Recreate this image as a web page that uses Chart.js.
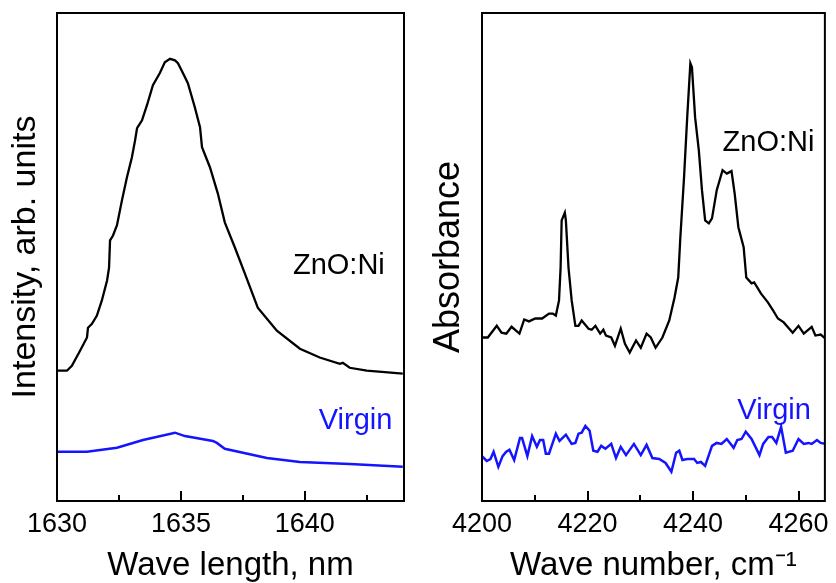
<!DOCTYPE html>
<html>
<head>
<meta charset="utf-8">
<script src="https://cdn.jsdelivr.net/npm/chart.js@4"></script>
<style>
  html, body { margin: 0; padding: 0; background: #fff; overflow: hidden; }
  #wrap { position: relative; width: 836px; height: 583px; }
  canvas { position: absolute; top: 0; }
  #pl-chart { left: 0; }
  #abs-chart { left: 420px; }
</style>
</head>
<body>
<div id="wrap">
  <canvas id="pl-chart" width="420" height="583"></canvas>
  <canvas id="abs-chart" width="416" height="583"></canvas>
</div>
<script>
// Left panel: emission spectra
const znoWavelength = [1630.00, 1630.40, 1630.60, 1630.93, 1631.21, 1631.25, 1631.41, 1631.61, 1631.81, 1632.02, 1632.10, 1632.14, 1632.26, 1632.42, 1632.62, 1632.82, 1633.02, 1633.15, 1633.23, 1633.43, 1633.63, 1633.87, 1634.15, 1634.35, 1634.56, 1634.76, 1634.88, 1635.08, 1635.28, 1635.56, 1635.77, 1635.85, 1636.17, 1636.49, 1636.77, 1637.18, 1637.58, 1638.10, 1638.87, 1639.80, 1640.60, 1641.41, 1641.53, 1641.81, 1642.50, 1643.95]
const znoIntensity = [26.7, 26.7, 27.7, 30.8, 33.5, 35.5, 36.3, 38.0, 41.1, 45.2, 47.8, 53.4, 54.4, 56.5, 61.6, 66.3, 70.4, 73.9, 76.4, 78.0, 81.1, 85.2, 87.7, 89.9, 90.6, 90.3, 89.7, 87.7, 85.6, 80.7, 76.6, 72.5, 68.4, 63.0, 57.1, 51.9, 46.6, 39.6, 34.9, 31.2, 29.4, 28.1, 28.3, 27.3, 26.7, 26.1]
const virginWavelength = [1630.00, 1631.21, 1632.42, 1633.47, 1634.76, 1635.16, 1636.29, 1636.45, 1636.77, 1638.47, 1639.80, 1641.81, 1643.95]
const virginIntensity = [10.1, 10.1, 10.9, 12.5, 14.0, 13.3, 12.3, 11.9, 10.7, 8.8, 8.0, 7.6, 7.0]

// Right panel: absorption spectra
const znoWavenumber = [4200.0, 4201.1, 4202.8, 4203.7, 4204.6, 4205.6, 4207.1, 4208.0, 4208.9, 4210.1, 4211.4, 4212.7, 4213.4, 4214.0, 4214.6, 4214.9, 4215.1, 4215.7, 4215.9, 4216.4, 4217.0, 4217.7, 4218.3, 4218.9, 4220.2, 4220.8, 4221.5, 4222.4, 4223.0, 4223.5, 4224.5, 4225.2, 4226.3, 4227.1, 4228.0, 4229.2, 4230.1, 4231.2, 4232.0, 4232.9, 4234.2, 4235.5, 4236.5, 4237.2, 4237.6, 4238.3, 4238.9, 4239.5, 4239.8, 4240.4, 4241.1, 4241.7, 4242.3, 4243.0, 4243.6, 4244.5, 4245.6, 4246.4, 4247.3, 4247.9, 4248.6, 4249.6, 4250.1, 4251.1, 4251.6, 4252.9, 4254.2, 4255.2, 4256.1, 4257.2, 4258.9, 4260.0, 4261.0, 4262.5, 4263.2, 4264.2, 4265.1]
const znoAbsorbance = [33.5, 33.5, 35.9, 34.5, 34.3, 35.7, 34.3, 37.2, 36.8, 37.4, 37.4, 38.4, 38.4, 38.0, 41.1, 47.8, 57.5, 59.1, 57.5, 47.8, 41.1, 35.9, 35.9, 37.0, 35.3, 35.1, 35.9, 34.3, 35.1, 33.9, 33.5, 31.8, 35.3, 32.2, 30.4, 32.9, 31.4, 34.3, 33.5, 31.4, 33.5, 37.0, 41.7, 45.8, 54.0, 66.3, 78.6, 89.7, 88.9, 78.6, 71.9, 63.7, 57.5, 56.9, 57.9, 63.7, 67.8, 67.1, 67.6, 63.0, 56.1, 52.0, 45.8, 44.6, 44.8, 42.5, 40.7, 39.0, 37.4, 36.6, 34.5, 35.9, 34.3, 35.7, 33.9, 34.1, 33.3]
const virginWavenumber = [4200.0, 4200.9, 4201.6, 4202.2, 4203.1, 4203.9, 4204.6, 4205.2, 4206.1, 4207.2, 4207.6, 4208.6, 4209.5, 4210.4, 4211.0, 4211.6, 4212.1, 4212.7, 4214.0, 4214.7, 4215.9, 4217.0, 4217.7, 4218.3, 4218.9, 4219.6, 4220.4, 4221.1, 4221.9, 4222.6, 4223.4, 4224.5, 4225.4, 4226.3, 4227.3, 4228.8, 4230.1, 4231.2, 4232.3, 4233.6, 4234.8, 4235.9, 4236.8, 4237.4, 4238.0, 4238.9, 4240.2, 4240.8, 4241.5, 4242.3, 4243.6, 4244.5, 4245.4, 4246.4, 4247.0, 4247.7, 4248.4, 4249.2, 4250.0, 4251.1, 4252.6, 4253.3, 4254.3, 4255.0, 4255.8, 4256.7, 4257.6, 4258.9, 4260.0, 4261.0, 4261.9, 4262.5, 4263.5, 4264.2, 4265.1]
const virginAbsorbance = [9.2, 8.2, 8.6, 10.1, 7.0, 9.2, 10.1, 10.5, 8.4, 12.9, 12.9, 9.2, 13.3, 11.1, 12.5, 12.5, 9.7, 9.7, 13.8, 12.3, 13.6, 11.7, 11.9, 13.8, 14.0, 15.4, 14.4, 10.3, 10.1, 11.3, 10.7, 11.7, 8.8, 11.1, 9.4, 11.7, 9.4, 11.5, 8.8, 8.6, 7.8, 6.0, 9.9, 10.3, 8.4, 8.6, 8.6, 7.8, 8.0, 7.2, 11.3, 11.9, 11.7, 12.7, 11.9, 10.9, 12.5, 12.7, 14.2, 12.7, 9.4, 11.7, 13.1, 13.1, 11.9, 15.2, 9.9, 10.3, 12.7, 11.7, 11.9, 11.7, 12.5, 11.9, 11.7]

const FONT = '"Liberation Sans", Arial, sans-serif'
const BLUE = 'rgb(20, 20, 255)'

const toPoints = (xs, ys) => xs.map((x, i) => ({ x: x, y: ys[i] }))

// frame, inward ticks and in-plot labels
const frameTicks = {
  id: 'frameTicks',
  afterDatasetsDraw (chart, args, opts) {
    const { ctx, chartArea: a, scales } = chart
    const x = scales.x
    const y = scales.y
    ctx.save()
    ctx.strokeStyle = '#000'
    ctx.lineWidth = 2
    ctx.strokeRect(a.left, a.top, a.right - a.left, a.bottom - a.top)
    x.ticks.forEach((t) => {
      const px = Math.round(x.getPixelForValue(t.value))
      const len = t.label !== '' ? 10 : 6
      ctx.beginPath()
      ctx.moveTo(px, a.bottom)
      ctx.lineTo(px, a.bottom - len)
      ctx.stroke()
    })
    ctx.font = '29px ' + FONT
    ctx.textAlign = 'left'
    ctx.textBaseline = 'alphabetic'
    opts.labels.forEach((l) => {
      ctx.fillStyle = l.color
      ctx.fillText(l.text, x.getPixelForValue(l.x), y.getPixelForValue(l.y))
    })
    ctx.restore()
  }
}

function makeOptions (xMin, xMax, step, labelEvery, xTitle, yTitle, yFont, yPad, rightPad, labels) {
  return {
    responsive: false,
    animation: false,
    devicePixelRatio: 1,
    layout: { padding: { top: 13, right: rightPad, left: 0, bottom: 0 } },
    elements: { point: { radius: 0 }, line: { tension: 0 } },
    plugins: {
      legend: { display: false },
      tooltip: { enabled: false },
      frameTicks: { labels: labels }
    },
    scales: {
      x: {
        type: 'linear',
        min: xMin,
        max: xMax,
        grid: { display: false, drawTicks: false },
        border: { display: false },
        ticks: {
          stepSize: step,
          includeBounds: false,
          autoSkip: false,
          maxRotation: 0,
          padding: 7,
          color: '#000',
          font: { family: FONT, size: 27 },
          callback: (v) => (Math.abs(v % labelEvery) < 1e-6 ? String(v) : '')
        },
        title: {
          display: true,
          text: xTitle,
          color: '#000',
          font: { family: FONT, size: 33 },
          padding: { top: -1.6, bottom: -2.4 }
        }
      },
      y: {
        min: 0,
        max: 100,
        grid: { display: false, drawTicks: false },
        border: { display: false },
        ticks: { display: false },
        title: {
          display: true,
          text: yTitle,
          color: '#000',
          font: { family: FONT, size: yFont },
          padding: yPad
        }
      }
    }
  }
}

const plChart = new Chart(document.querySelector('#pl-chart'), {
  type: 'line',
  data: {
    datasets: [
      { label: 'ZnO:Ni', data: toPoints(znoWavelength, znoIntensity), borderColor: '#000', borderWidth: 2.3 },
      { label: 'Virgin', data: toPoints(virginWavelength, virginIntensity), borderColor: BLUE, borderWidth: 2.5 }
    ]
  },
  options: makeOptions(1630, 1644, 2.5, 5, 'Wave length, nm', 'Intensity, arb. units', 34,
    { top: 4.8, bottom: 11.4 }, 16,
    [
      { text: 'ZnO:Ni', x: 1639.52, y: 46.6, color: '#000' },
      { text: 'Virgin', x: 1640.56, y: 14.8, color: BLUE }
    ]),
  plugins: [frameTicks]
})

const absChart = new Chart(document.querySelector('#abs-chart'), {
  type: 'line',
  data: {
    datasets: [
      { label: 'ZnO:Ni', data: toPoints(znoWavenumber, znoAbsorbance), borderColor: '#000', borderWidth: 2.3 },
      { label: 'Virgin', data: toPoints(virginWavenumber, virginAbsorbance), borderColor: BLUE, borderWidth: 2.5 }
    ]
  },
  options: makeOptions(4200, 4265, 10, 20, 'Wave number, cm\u207B\u00B9', 'Absorbance', 36,
    { top: 7.9, bottom: 10.9 }, 6,
    [
      { text: 'ZnO:Ni', x: 4245.6, y: 71.7, color: '#000' },
      { text: 'Virgin', x: 4248.4, y: 16.8, color: BLUE }
    ]),
  plugins: [frameTicks]
})
</script>
</body>
</html>
